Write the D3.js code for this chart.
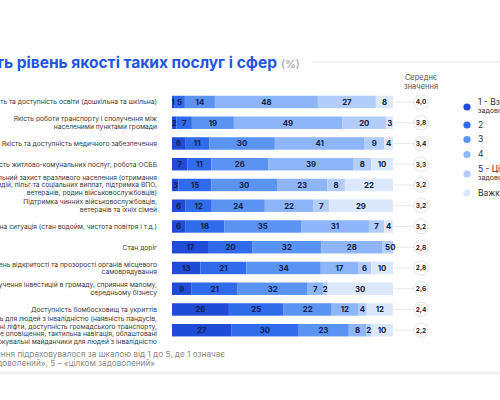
<!DOCTYPE html>
<html><head><meta charset="utf-8">
<script src="https://cdn.jsdelivr.net/npm/d3@7"></script>
<style>
html,body{margin:0;padding:0;background:#fff;}
svg{display:block;font-family:Inter,"Noto Sans",sans-serif;}
</style></head>
<body>
<svg id="c" width="500" height="400"></svg>
<script>
const items = [
  ["Якість та доступність освіти (дошкільна та шкільна)"],
  ["Якість роботи транспорту і сполучення між","населеними пунктами громади"],
  ["Якість та доступність медичного забезпечення"],
  ["Якість житлово-комунальних послуг, робота ОСББ"],
  ["Соціальний захист вразливого населення (отримання","субсидій, пільг та соціальних виплат, підтримка ВПО,","ветеранів, родин військовослужбовців)"],
  ["Підтримка чинних військовослужбовців,","ветеранів та їхніх сімей"],
  ["Екологічна ситуація (стан водойм, чистота повітря і т.д.)"],
  ["Стан доріг"],
  ["Рівень відкритості та прозорості органів місцевого","самоврядування"],
  ["Залучення інвестицій в громаду, сприяння малому,","середньому бізнесу"],
  ["Доступність бомбосховищ та укриттів"],
  ["Доступність для людей з інвалідністю (наявність пандусів,","спеціальні ліфти, доступність громадського транспорту,","звукове оповіщення, тактильна навігація, облаштовані","паркувальні майданчики для людей з інвалідністю"]
];
const cat1 = [1, 2, 6, 7, 3, 6, 6, 17, 13, 9, 26, 27];
const cat2 = [5, 7, 11, 11, 15, 12, 18, 20, 21, 21, 25, 30];
const cat3 = [14, 19, 30, 26, 30, 24, 35, 32, 34, 32, 22, 23];
const cat4 = [48, 49, 41, 39, 23, 22, 31, 28, 17, 7, 12, 8];
const cat5 = [27, 20, 9, 8, 8, 7, 7, 5, 6, 2, 4, 2];
const hard = [8, 3, 4, 10, 22, 29, 4, 0, 10, 30, 12, 10];
const means = ["4,0","3,8","3,4","3,3","3,2","3,2","3,2","2,8","2,8","2,6","2,4","2,2"];
const seriesNames = [["1 - Взагалі не","задоволений"],["2"],["3"],["4"],["5 - Цілком","задоволений"],["Важко відповісти"]];
const colors = ["#1f4bd6","#2f6bea","#5b93f3","#8db5f7","#b2cdf9","#dbe7fb"];

const svg = d3.select("#c");
const keys = ["c1","c2","c3","c4","c5","c6"];
const series = [cat1,cat2,cat3,cat4,cat5,hard];
const rows = items.map((lab,i)=>{const o={i:i}; keys.forEach((k,j)=>o[k]=series[j][i]); return o;});
const stack = d3.stack().keys(keys).offset(d3.stackOffsetExpand)(rows);

const x = d3.scaleLinear().domain([0,1]).range([172,393]);
const y = d3.scaleBand().domain(d3.range(items.length)).range([91.6,340.6]).paddingInner(0.4).paddingOuter(0.2);
const color = d3.scaleOrdinal().domain(keys).range(colors);

// title
svg.append("text").attr("x",277).attr("y",68).attr("text-anchor","end")
  .attr("font-size",15.5).attr("font-weight",700).attr("fill","#1f55e0")
  .text("Оцініть рівень якості таких послуг і сфер");
svg.append("text").attr("x",281).attr("y",68).attr("font-size",11).attr("fill","#9a9a9a").text("(%)");
svg.append("line").attr("x1",312).attr("x2",500).attr("y1",62).attr("y2",62).attr("stroke","#e8e8e8").attr("stroke-width",1);

// header mean
svg.append("text").attr("x",421).attr("y",80).attr("text-anchor","middle").attr("font-size",7.5).attr("fill","#555").text("Середнє");
svg.append("text").attr("x",421).attr("y",89).attr("text-anchor","middle").attr("font-size",7.5).attr("fill","#555").text("значення");

// connectors and mean circles
const cy = i => y(i)+y.bandwidth()/2;
svg.append("g").selectAll("line").data(rows).join("line")
  .attr("x1",x(1)+1).attr("x2",414).attr("y1",d=>cy(d.i)).attr("y2",d=>cy(d.i))
  .attr("stroke","#e2e2e2").attr("stroke-width",0.8);
const mg = svg.append("g").selectAll("g").data(rows).join("g").attr("transform",d=>`translate(421,${cy(d.i)})`);
mg.append("circle").attr("r",7.2).attr("fill","#fff").attr("stroke","#dcdcdc").attr("stroke-width",0.8);
mg.append("text").attr("text-anchor","middle").attr("dy","0.35em").attr("font-size",6.5).attr("font-weight",700).attr("fill","#223").text(d=>means[d.i]);

// bars
const g = svg.append("g");
stack.forEach((s,j)=>{
  g.append("g").attr("fill",colors[j]).selectAll("rect").data(s).join("rect")
    .attr("x",d=>x(d[0])).attr("width",d=>Math.max(0,x(d[1])-x(d[0])))
    .attr("y",(d,i)=>y(i)).attr("height",y.bandwidth());
});
// value labels
stack.forEach((s,j)=>{
  g.append("g").selectAll("text").data(s).join("text")
    .attr("x",d=>(x(d[0])+x(d[1]))/2).attr("y",(d,i)=>cy(i)).attr("dy","0.36em")
    .attr("text-anchor","middle").attr("font-size",7.8).attr("font-weight",700).attr("fill","#13204a")
    .text((d,i)=>series[j][i]);
});

// category labels
const lg = svg.append("g");
items.forEach((lines,i)=>{
  const lh = 7.6; const n = lines.length;
  lines.forEach((t,k)=>{
    lg.append("text").attr("x",157).attr("y",cy(i)+(k-(n-1)/2)*lh).attr("dy","0.35em")
      .attr("text-anchor","end").attr("font-size",6.7).attr("fill","#3a3a3a").text(t);
  });
});

// legend
const legY = [107,125,139.5,154.5,174,193];
seriesNames.forEach((lines,j)=>{
  svg.append("circle").attr("cx",467).attr("cy",legY[j]).attr("r",3.6).attr("fill",colors[j]);
  const n = lines.length;
  lines.forEach((t,k)=>{
    svg.append("text").attr("x",478).attr("y",legY[j]+(k-(n-1)/2)*9 + (n>1?-0.5:0)).attr("dy","0.35em")
      .attr("font-size",k>0?7:8.5).attr("fill","#333").text(t);
  });
});

// footnote
svg.append("text").attr("x",225).attr("y",357).attr("text-anchor","end").attr("font-size",8.2).attr("fill","#8a8a8a")
  .text("*Середнє значення підраховувалося за шкалою від 1 до 5, де 1 означає");
svg.append("text").attr("x",155).attr("y",366).attr("text-anchor","end").attr("font-size",8.2).attr("fill","#8a8a8a")
  .text("«зовсім не задоволений», 5 – «цілком задоволений»");
svg.append("line").attr("x1",0).attr("x2",500).attr("y1",373).attr("y2",373).attr("stroke","#f0f0f0").attr("stroke-width",3);
</script>
</body></html>
